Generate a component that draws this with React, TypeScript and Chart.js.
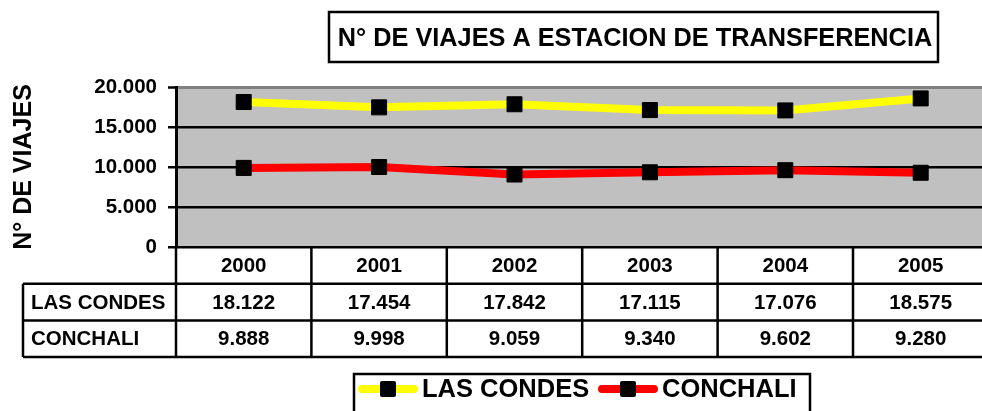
import React, { useEffect, useRef } from "react";
import { Chart, registerables } from "chart.js";

Chart.register(...registerables);

const chartTitle = "N° DE VIAJES A ESTACION DE TRANSFERENCIA";
const yAxisTitle = "N° DE VIAJES";
const years = ["2000", "2001", "2002", "2003", "2004", "2005"];
const seriesNames = ["LAS CONDES", "CONCHALI"];
const lasCondes = [18122, 17454, 17842, 17115, 17076, 18575];
const conchali = [9888, 9998, 9059, 9340, 9602, 9280];
const seriesColors = ["#FFFF00", "#FF0000"];
const yTickValues = [0, 5000, 10000, 15000, 20000];

const fmt = (n: number) => String(Math.round(n)).replace(/\B(?=(\d{3})+(?!\d))/g, ".");

const FONT = "'Liberation Sans', Arial, Helvetica, sans-serif";

const bgPlugin = {
  id: "bgPlugin",
  beforeDraw(chart: any) {
    const { ctx, chartArea: a } = chart;
    ctx.save();
    ctx.fillStyle = "#FFFFFF";
    ctx.fillRect(0, 0, chart.width, chart.height);
    ctx.fillStyle = "#C0C0C0";
    ctx.fillRect(a.left, a.top, a.right - a.left, a.bottom - a.top);
    ctx.restore();
  },
};

const tablePlugin = {
  id: "tablePlugin",
  afterDraw(chart: any) {
    const { ctx, chartArea: a } = chart;
    const xs = chart.scales.x;
    const n = years.length;
    const colW = xs.getPixelForValue(1) - xs.getPixelForValue(0);
    const x0 = xs.getPixelForValue(0) - colW / 2;
    const xEnd = x0 + n * colW;
    const top = a.bottom;
    const rowH = 36.7;
    const labelLeft = 23;

    ctx.save();
    ctx.strokeStyle = "#000";
    ctx.lineWidth = 2.5;
    ctx.beginPath();
    for (let i = 0; i <= n; i++) {
      const bx = x0 + i * colW;
      ctx.moveTo(bx, top);
      ctx.lineTo(bx, top + 3 * rowH);
    }
    for (let r = 1; r <= 3; r++) {
      ctx.moveTo(labelLeft, top + r * rowH);
      ctx.lineTo(xEnd, top + r * rowH);
    }
    ctx.moveTo(labelLeft, top + rowH);
    ctx.lineTo(labelLeft, top + 3 * rowH);
    ctx.stroke();

    ctx.fillStyle = "#000";
    ctx.font = `bold 20.5px ${FONT}`;
    ctx.textBaseline = "middle";
    ctx.textAlign = "center";
    years.forEach((y, i) => {
      ctx.fillText(y, xs.getPixelForValue(i), top + rowH / 2 + 1);
    });
    chart.data.datasets.forEach((ds: any, r: number) => {
      const cy = top + (r + 1) * rowH + rowH / 2 + 1;
      ctx.textAlign = "center";
      ds.data.forEach((v: number, i: number) => {
        ctx.fillText(fmt(v), xs.getPixelForValue(i), cy);
      });
      ctx.textAlign = "left";
      ctx.fillText(ds.label, labelLeft + 8, cy);
    });

    // Title box
    ctx.font = `bold 25.3px ${FONT}`;
    ctx.textAlign = "center";
    ctx.fillText(chartTitle, 635, 39);
    ctx.lineWidth = 2.5;
    ctx.strokeRect(329, 12, 609, 50);

    // Legend box
    ctx.strokeRect(354, 374, 456, 60);
    const items = [
      { lx: 358, tx: 422 },
      { lx: 598, tx: 662 },
    ];
    chart.data.datasets.forEach((ds: any, i: number) => {
      const it = items[i];
      const cy = 389;
      ctx.strokeStyle = ds.borderColor;
      ctx.lineWidth = 8;
      ctx.lineCap = "round";
      ctx.beginPath();
      ctx.moveTo(it.lx + 4, cy);
      ctx.lineTo(it.lx + 56, cy);
      ctx.stroke();
      ctx.fillStyle = "#000";
      ctx.beginPath();
      if (ctx.roundRect) ctx.roundRect(it.lx + 22, cy - 8, 16, 16, 2);
      else ctx.rect(it.lx + 22, cy - 8, 16, 16);
      ctx.fill();
      ctx.font = `bold 25.5px ${FONT}`;
      ctx.textAlign = "left";
      ctx.fillText(ds.label, it.tx, cy + 1);
    });
    ctx.restore();
  },
};

export default function App() {
  const ref = useRef<HTMLCanvasElement | null>(null);

  useEffect(() => {
    if (!ref.current) return;
    const chart = new Chart(ref.current, {
      type: "line",
      data: {
        labels: years,
        datasets: [
          {
            label: seriesNames[0],
            data: lasCondes,
            borderColor: seriesColors[0],
            backgroundColor: seriesColors[0],
            borderWidth: 8,
            pointStyle: "rect",
            pointRadius: 10.6,
            pointBackgroundColor: "#000",
            pointBorderColor: "#000",
            pointBorderWidth: 1,
            tension: 0,
          },
          {
            label: seriesNames[1],
            data: conchali,
            borderColor: seriesColors[1],
            backgroundColor: seriesColors[1],
            borderWidth: 8,
            pointStyle: "rect",
            pointRadius: 10.6,
            pointBackgroundColor: "#000",
            pointBorderColor: "#000",
            pointBorderWidth: 1,
            tension: 0,
          },
        ],
      },
      options: {
        responsive: false,
        animation: false,
        devicePixelRatio: 1,
        layout: { padding: { top: 87, bottom: 164, left: 0, right: 7 } },
        plugins: {
          legend: { display: false },
          title: { display: false },
          tooltip: { enabled: false },
        },
        scales: {
          x: {
            display: false,
            offset: true,
          },
          y: {
            min: 0,
            max: 20000,
            afterFit: (scale: any) => {
              scale.width = 176;
            },
            afterBuildTicks: (scale: any) => {
              scale.ticks = yTickValues.map((v) => ({ value: v }));
            },
            border: { display: true, color: "#000", width: 3 },
            grid: {
              drawTicks: true,
              tickLength: 8,
              tickColor: "#000",
              tickWidth: 2.5,
              color: (c: any) => (c.tick && c.tick.value === 20000 ? "#808080" : "#000"),
              lineWidth: (c: any) => (c.tick && c.tick.value === 20000 ? 3 : 2.5),
            },
            ticks: {
              padding: 11,
              color: "#000",
              font: { family: FONT, size: 20.5, weight: "bold" },
              callback: (v: any) => fmt(Number(v)),
            },
            title: {
              display: true,
              text: yAxisTitle,
              color: "#000",
              padding: { top: 9, bottom: 0 },
              font: { family: FONT, size: 25, weight: "bold" },
            },
          },
        },
      },
      plugins: [bgPlugin, tablePlugin],
    });
    return () => chart.destroy();
  }, []);

  return (
    <div
      style={{
        position: "fixed",
        left: 0,
        top: 0,
        width: 982,
        height: 411,
        overflow: "hidden",
        background: "#fff",
      }}
    >
      <canvas ref={ref} width={1000} height={411} style={{ width: 1000, height: 411, display: "block" }} />
    </div>
  );
}
